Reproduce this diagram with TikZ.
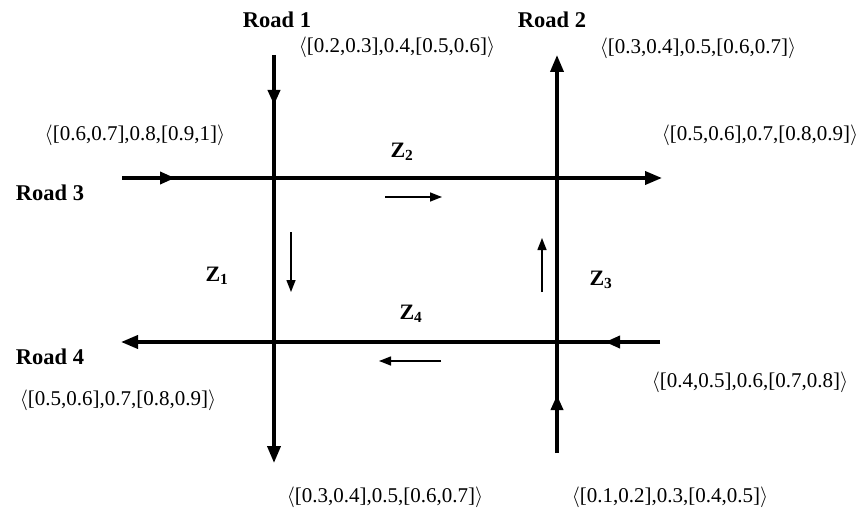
\documentclass[tikz,border=0pt]{standalone}
\usepackage{fontspec}
\setmainfont{Liberation Serif}
\usetikzlibrary{arrows.meta,decorations.markings}
\newcommand{\tv}[5]{$\bigl\langle$[#1,#2],#3,[#4,#5]$\bigr\rangle$}
\tikzset{
  road/.style={line width=3.6pt,-{Triangle[length=17pt,width=13pt]}},
  midarrow/.style={postaction={decorate},decoration={markings,
     mark=at position #1 with {\arrow{Triangle[length=15pt,width=12pt]}}}},
  thin arrow/.style={line width=1.4pt,-{Triangle[length=12pt,width=9pt]}},
  val/.style={font=\fontsize{21}{24}\selectfont,inner sep=0pt},
  roadlabel/.style={font=\fontsize{22.5}{26}\selectfont\bfseries,inner sep=0pt},
  zone/.style={font=\fontsize{22}{26}\selectfont\bfseries,inner sep=0pt}
}
\begin{document}
\begin{tikzpicture}[x=1pt,y=-1pt]
\useasboundingbox (0,0) rectangle (863,511);
% endpoints
\coordinate (r1top) at (274,55);
\coordinate (r1bot) at (274,463);
\coordinate (r2bot) at (557,453);
\coordinate (r2top) at (557,55);
\coordinate (r3l) at (122,178);
\coordinate (r3r) at (662,178);
\coordinate (r4r) at (660,342);
\coordinate (r4l) at (121,342);
% roads
\draw[road,midarrow=50pt] (r1top) -- (r1bot);
\draw[road,midarrow=58pt] (r2bot) -- (r2top);
\draw[road,midarrow=53pt] (r3l) -- (r3r);
\draw[road,midarrow=55pt] (r4r) -- (r4l);
% inner arrows
\coordinate (ia1) at (385,197); \coordinate (ib1) at (442,197);
\coordinate (ia2) at (542,292); \coordinate (ib2) at (542,238);
\coordinate (ia3) at (441,361); \coordinate (ib3) at (379,361);
\coordinate (ia4) at (291,232); \coordinate (ib4) at (291,292);
\draw[thin arrow] (ia1) -- (ib1);
\draw[thin arrow] (ia2) -- (ib2);
\draw[thin arrow] (ia3) -- (ib3);
\draw[thin arrow] (ia4) -- (ib4);
% road labels
\node[roadlabel] (l1) at (277,20) {Road 1};
\node[roadlabel] (l2) at (552,20) {Road 2};
\node[roadlabel] (l3) at (50,193) {Road 3};
\node[roadlabel] (l4) at (50,357) {Road 4};
% zones
\node[zone] (z1) at (217,276) {Z\textsubscript{1}};
\node[zone] (z2) at (402,152) {Z\textsubscript{2}};
\node[zone] (z3) at (601,280) {Z\textsubscript{3}};
\node[zone] (z4) at (411,314) {Z\textsubscript{4}};
% values
\node[val] (v1) at (397,47) {\tv{0.2}{0.3}{0.4}{0.5}{0.6}};
\node[val] (v2) at (698,48) {\tv{0.3}{0.4}{0.5}{0.6}{0.7}};
\node[val] (v3) at (135,135) {\tv{0.6}{0.7}{0.8}{0.9}{1}};
\node[val] (v4) at (760,135) {\tv{0.5}{0.6}{0.7}{0.8}{0.9}};
\node[val] (v5) at (118,400) {\tv{0.5}{0.6}{0.7}{0.8}{0.9}};
\node[val] (v6) at (750,382) {\tv{0.4}{0.5}{0.6}{0.7}{0.8}};
\node[val] (v7) at (385,497) {\tv{0.3}{0.4}{0.5}{0.6}{0.7}};
\node[val] (v8) at (670,497) {\tv{0.1}{0.2}{0.3}{0.4}{0.5}};
\end{tikzpicture}
\end{document}
